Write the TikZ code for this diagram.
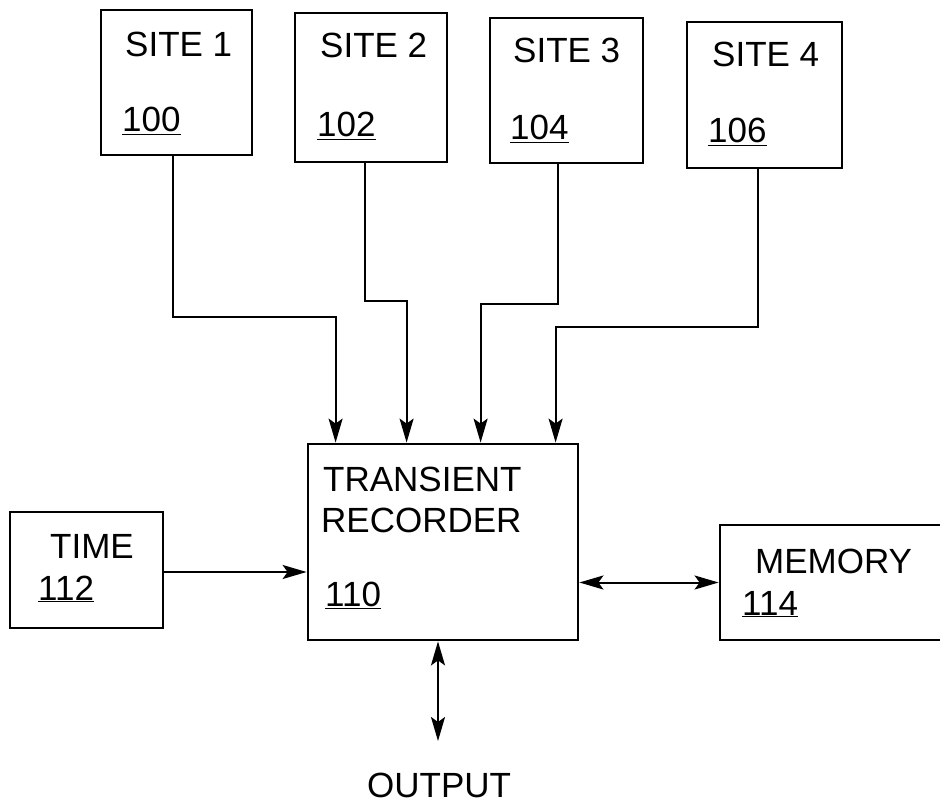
\documentclass[tikz,border=0pt]{standalone}
\usepackage{fontspec}
\setmainfont{Liberation Sans}
\usetikzlibrary{arrows.meta}
\begin{document}
\begin{tikzpicture}[x=1pt,y=-1pt,
  blk/.style={draw=black, line width=2.8pt, minimum width=#1, inner sep=0pt},
  lbl/.style={anchor=base west, inner sep=0pt, font=\fontsize{35}{40}\selectfont},
  conn/.style={draw=black, line width=2pt, -{Stealth[length=24pt,width=14pt,inset=5pt]}},
  bconn/.style={draw=black, line width=2pt, {Stealth[length=24pt,width=14pt,inset=5pt]}-{Stealth[length=24pt,width=14pt,inset=5pt]}}
]
\useasboundingbox (0,0) rectangle (940,805);
% boxes
\node[blk=151pt, minimum height=145pt] (s1) at (176.5,82.5) {};
\node[blk=152pt, minimum height=149pt] (s2) at (371,87.5) {};
\node[blk=153pt, minimum height=145pt] (s3) at (566.5,90.5) {};
\node[blk=155pt, minimum height=146pt] (s4) at (764.5,95) {};
\node[blk=270pt, minimum height=196pt] (rec) at (443,542) {};
\node[blk=153pt, minimum height=116pt] (time) at (86.5,570) {};
\node[blk=221pt, minimum height=115pt] (mem) at (830.5,582.5) {};
% labels
\node[lbl] (t1) at (125,57) {SITE 1};
\node[lbl] (n1) at (122,132) {\underline{100}};
\node[lbl] (t2) at (320,58) {SITE 2};
\node[lbl] (n2) at (317,137) {\underline{102}};
\node[lbl] (t3) at (513,63) {SITE 3};
\node[lbl] (n3) at (510,140) {\underline{104}};
\node[lbl] (t4) at (712,67) {SITE 4};
\node[lbl] (n4) at (708,143) {\underline{106}};
\node[lbl] (tr1) at (323,491) {TRANSIENT};
\node[lbl] (tr2) at (321,532) {RECORDER};
\node[lbl] (nr) at (325,606) {\underline{110}};
\node[lbl] (tt) at (50,558) {TIME};
\node[lbl] (nt) at (38,600) {\underline{112}};
\node[lbl] (tm) at (755,573) {MEMORY};
\node[lbl] (nm) at (742,615) {\underline{114}};
\node[lbl] (out) at (367,797) {OUTPUT};
\coordinate (outend) at (438,741);
% connectors
\draw[conn] ([xshift=-3.5pt]s1.south) -- ++(0,161) -| ([xshift=29pt]rec.north west);
\draw[conn] ([xshift=-6pt]s2.south) -- ++(0,138) -| ([xshift=100pt]rec.north west);
\draw[conn] ([xshift=-8.5pt]s3.south) -- ++(0,140) -| ([xshift=174pt]rec.north west);
\draw[conn] ([xshift=-6.5pt]s4.south) -- ++(0,158) -| ([xshift=249pt]rec.north west);
\draw[conn] ([yshift=-2pt]time.east) -- ([yshift=-2pt]time.east -| rec.west);
\draw[bconn] (mem.west -| rec.east) -- (mem.west);
\draw[bconn] ([xshift=-5pt]rec.south) -- (outend);
\end{tikzpicture}
\end{document}
